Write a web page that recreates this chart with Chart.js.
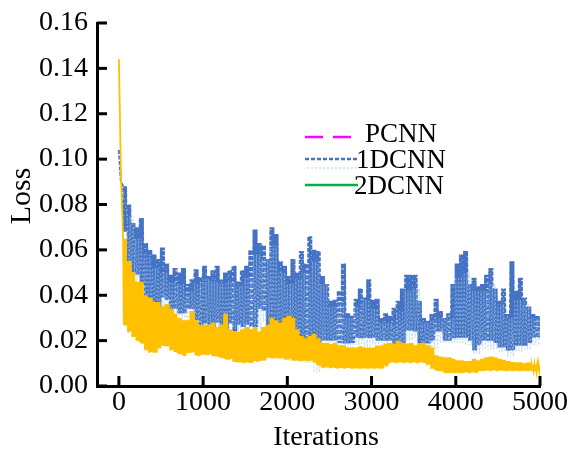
<!DOCTYPE html>
<html lang="en">
<head>
<meta charset="UTF-8">
<title>Loss vs Iterations</title>
<style>
  body { margin: 0; background: #fff; }
  #wrap { width: 569px; height: 450px; }
</style>
</head>
<body>
<div id="wrap"><canvas id="ctx" width="569" height="450"></canvas></div>
<script src="https://cdn.jsdelivr.net/npm/chart.js"></script>
<script>
// envelopes: upper / lower value per iteration bin
const fineStep = 50;     // yellow and dark blue: one bin every 50 iterations
const coarseStep = 100;  // light blue: one bin every 100 iterations

const xTicks = [0, 1000, 2000, 3000, 4000, 5000];
const yTicks = [0, 0.02, 0.04, 0.06, 0.08, 0.10, 0.12, 0.14, 0.16];

const yellowHi = [
  0.144, 0.065, 0.055, 0.050, 0.046, 0.046, 0.040, 0.039, 0.037, 0.037,
  0.035, 0.036, 0.034, 0.032, 0.030, 0.029, 0.029, 0.033, 0.029, 0.027,
  0.027, 0.027, 0.028, 0.026, 0.027, 0.032, 0.025, 0.024, 0.024, 0.025,
  0.026, 0.025, 0.026, 0.024, 0.026, 0.027, 0.030, 0.029, 0.028, 0.030,
  0.031, 0.030, 0.025, 0.022, 0.021, 0.022, 0.023, 0.021, 0.019, 0.019,
  0.0185, 0.019, 0.018, 0.018, 0.017, 0.017, 0.017, 0.0175, 0.017, 0.017,
  0.017, 0.0178, 0.0178, 0.0187, 0.019, 0.0187, 0.020, 0.019, 0.0187, 0.019,
  0.018, 0.0187, 0.019, 0.018, 0.017, 0.0135, 0.013, 0.0126, 0.0126, 0.012,
  0.0113, 0.0113, 0.011, 0.011, 0.012, 0.0113, 0.012, 0.0126, 0.013, 0.0126,
  0.012, 0.0115, 0.011, 0.0105, 0.0104, 0.0104, 0.010, 0.0104, 0.0095, 0.0095,
  0.009
];
const yellowLo = [
  0.092, 0.027, 0.024, 0.022, 0.020, 0.019, 0.016, 0.015, 0.015, 0.0165,
  0.018, 0.0175, 0.016, 0.015, 0.014, 0.0135, 0.0145, 0.015, 0.0135, 0.014,
  0.014, 0.014, 0.0135, 0.013, 0.0126, 0.012, 0.012, 0.011, 0.0104, 0.0104,
  0.0104, 0.0104, 0.011, 0.011, 0.0115, 0.0125, 0.0125, 0.0125, 0.0125, 0.012,
  0.012, 0.0115, 0.0113, 0.0113, 0.0113, 0.0113, 0.0105, 0.009, 0.0082, 0.0082,
  0.0082, 0.008, 0.008, 0.008, 0.008, 0.008, 0.008, 0.008, 0.008, 0.008,
  0.008, 0.008, 0.008, 0.009, 0.0104, 0.0104, 0.0104, 0.0104, 0.0104, 0.0104,
  0.0104, 0.0104, 0.0104, 0.0095, 0.008, 0.0069, 0.0069, 0.006, 0.006, 0.006,
  0.006, 0.006, 0.006, 0.006, 0.006, 0.0065, 0.0069, 0.0069, 0.0069, 0.0069,
  0.0069, 0.0069, 0.0069, 0.0069, 0.0069, 0.0069, 0.0069, 0.0069, 0.0069, 0.0065,
  0.007
];
const blueHi = [
  0.104, 0.088, 0.080, 0.072, 0.070, 0.074, 0.063, 0.060, 0.058, 0.056,
  0.061, 0.054, 0.049, 0.052, 0.050, 0.052, 0.045, 0.047, 0.0515, 0.048,
  0.053, 0.0485, 0.051, 0.053, 0.047, 0.050, 0.051, 0.053, 0.046, 0.051,
  0.053, 0.060, 0.069, 0.063, 0.062, 0.056, 0.070, 0.067, 0.055, 0.053,
  0.0485, 0.056, 0.050, 0.0595, 0.054, 0.066, 0.060, 0.0595, 0.0485, 0.045,
  0.0376, 0.038, 0.042, 0.054, 0.032, 0.031, 0.0384, 0.043, 0.039, 0.047,
  0.038, 0.0384, 0.030, 0.032, 0.031, 0.0345, 0.0376, 0.043, 0.049, 0.049,
  0.049, 0.0376, 0.030, 0.0288, 0.0317, 0.0384, 0.033, 0.030, 0.032, 0.045,
  0.054, 0.058, 0.0595, 0.045, 0.0477, 0.044, 0.045, 0.049, 0.052, 0.043,
  0.0376, 0.043, 0.0317, 0.055, 0.042, 0.0477, 0.039, 0.035, 0.0317, 0.031,
  0.0297
];
const blueLo = [
  0.090, 0.068, 0.055, 0.050, 0.049, 0.045, 0.039, 0.036, 0.035, 0.0345,
  0.039, 0.038, 0.034, 0.034, 0.032, 0.032, 0.034, 0.034, 0.029, 0.026,
  0.0275, 0.027, 0.026, 0.028, 0.027, 0.025, 0.0275, 0.024, 0.027, 0.026,
  0.027, 0.026, 0.026, 0.034, 0.033, 0.026, 0.0213, 0.021, 0.017, 0.017,
  0.018, 0.020, 0.020, 0.014, 0.0127, 0.013, 0.0127, 0.015, 0.020, 0.020,
  0.020, 0.020, 0.019, 0.0187, 0.0187, 0.019, 0.0213, 0.021, 0.0213, 0.021,
  0.0213, 0.020, 0.020, 0.020, 0.020, 0.0156, 0.0156, 0.018, 0.0244, 0.0244,
  0.024, 0.0187, 0.0187, 0.0187, 0.020, 0.024, 0.024, 0.020, 0.020, 0.021,
  0.0213, 0.0213, 0.0213, 0.020, 0.0156, 0.018, 0.020, 0.020, 0.020, 0.019,
  0.017, 0.017, 0.0156, 0.0156, 0.0178, 0.0178, 0.0178, 0.019, 0.0213, 0.0213,
  0.022
];
const lightHi = [
  0.095, 0.075, 0.065, 0.058, 0.052, 0.050, 0.046, 0.045, 0.042, 0.045,
  0.047, 0.046, 0.045, 0.046, 0.044, 0.048, 0.058, 0.056, 0.062, 0.050,
  0.045, 0.047, 0.050, 0.055, 0.045, 0.035, 0.036, 0.030, 0.035, 0.038,
  0.034, 0.028, 0.028, 0.033, 0.042, 0.043, 0.028, 0.029, 0.030, 0.030,
  0.048, 0.050, 0.042, 0.042, 0.045, 0.036, 0.030, 0.038, 0.036, 0.030,
  0.028
];
const lightLo = [
  0.085, 0.050, 0.042, 0.036, 0.032, 0.030, 0.030, 0.028, 0.028, 0.025,
  0.024, 0.024, 0.023, 0.025, 0.024, 0.024, 0.024, 0.028, 0.018, 0.014,
  0.015, 0.012, 0.010, 0.006, 0.015, 0.017, 0.016, 0.016, 0.018, 0.017,
  0.018, 0.017, 0.016, 0.014, 0.020, 0.021, 0.016, 0.016, 0.019, 0.019,
  0.019, 0.018, 0.014, 0.016, 0.016, 0.015, 0.013, 0.015, 0.016, 0.018,
  0.020
];

// turn an upper/lower envelope into a zigzag trace, `reps` swings per bin
function zigzag(hi, lo, step, reps) {
  const pts = [];
  const last = hi.length - 1;
  for (let i = 0; i <= last; i++) {
    const x = i * step;
    const n = (i === 0 || i === last) ? 1 : reps;
    for (let k = 0; k < n; k++) {
      const dx = step * k / n;
      pts.push({ x: x + dx, y: hi[i] });
      pts.push({ x: i < last ? x + dx + step / (2 * n) : x, y: lo[i] });
    }
  }
  return pts;
}

const serif = "'Liberation Serif', 'Times New Roman', serif";

// inward ticks, axis titles and the legend box
const decor = {
  id: 'decor',
  afterDraw(chart) {
    const c = chart.ctx;
    const xs = chart.scales.x;
    const ys = chart.scales.y;
    const area = chart.chartArea;
    c.save();
    c.strokeStyle = '#000';
    c.lineWidth = 3;
    yTicks.forEach(v => {
      const py = ys.getPixelForValue(v);
      c.beginPath(); c.moveTo(area.left, py); c.lineTo(area.left + 10, py); c.stroke();
    });
    xTicks.forEach(v => {
      const px = xs.getPixelForValue(v);
      c.beginPath(); c.moveTo(px, area.bottom); c.lineTo(px, area.bottom - 10); c.stroke();
    });

    c.fillStyle = '#000';
    c.font = '28px ' + serif;
    c.textAlign = 'center';
    c.textBaseline = 'alphabetic';
    c.fillText('Iterations', 326, 445);

    c.save();
    c.translate(30, 196);
    c.rotate(-Math.PI / 2);
    c.font = '30px ' + serif;
    c.fillText('Loss', 0, 0);
    c.restore();

    // legend
    c.font = '27px ' + serif;
    c.textAlign = 'left';
    c.textBaseline = 'middle';
    c.lineWidth = 2.5;
    c.strokeStyle = '#FF00FF';
    c.setLineDash([18, 10]);
    c.beginPath(); c.moveTo(305, 137); c.lineTo(351, 137); c.stroke();
    c.fillText('PCNN', 365, 135);

    c.strokeStyle = '#4472C4';
    c.setLineDash([4, 2]);
    c.beginPath(); c.moveTo(305, 159); c.lineTo(357, 159); c.stroke();
    c.lineWidth = 1;
    c.strokeStyle = 'rgba(157,195,230,0.8)';
    c.setLineDash([2, 2]);
    c.beginPath(); c.moveTo(307, 168); c.lineTo(357, 168); c.stroke();
    c.fillText('1DCNN', 356, 161);

    c.setLineDash([]);
    c.lineWidth = 2.5;
    c.strokeStyle = '#00B050';
    c.beginPath(); c.moveTo(305, 185); c.lineTo(358, 185); c.stroke();
    c.fillText('2DCNN', 354, 187);
    c.restore();
  }
};

const ctx = document.getElementById('ctx').getContext('2d');

new Chart(ctx, {
  type: 'line',
  data: {
    datasets: [
      {
        label: 'yellow',
        data: zigzag(yellowHi, yellowLo, fineStep, 3),
        borderColor: '#FFC000',
        borderWidth: 1.8,
        order: 0
      },
      {
        label: 'light',
        data: zigzag(lightHi, lightLo, coarseStep, 3),
        borderColor: 'rgba(157,195,230,0.6)',
        borderWidth: 1.2,
        borderDash: [2, 2],
        order: 1
      },
      {
        label: 'blue',
        data: zigzag(blueHi, blueLo, fineStep, 3),
        borderColor: '#4472C4',
        borderWidth: 2.2,
        borderDash: [4, 1.5],
        order: 2
      }
    ]
  },
  options: {
    responsive: false,
    animation: false,
    events: [],
    elements: { point: { radius: 0 }, line: { tension: 0 } },
    layout: { padding: { left: 0, top: 20, right: 29, bottom: 0 } },
    plugins: { legend: { display: false }, tooltip: { enabled: false } },
    scales: {
      x: {
        type: 'linear',
        min: -260,
        max: 5000,
        afterBuildTicks: s => { s.ticks = xTicks.map(v => ({ value: v })); },
        afterFit: s => { s.height = 64; },
        grid: { display: false, drawTicks: false },
        border: { display: true, color: '#000', width: 3 },
        ticks: {
          color: '#000',
          font: { family: serif, size: 28 },
          padding: 0,
          maxRotation: 0,
          callback: v => String(v)
        }
      },
      y: {
        min: 0,
        max: 0.16,
        afterBuildTicks: s => { s.ticks = yTicks.map(v => ({ value: v })); },
        afterFit: s => { s.width = 97; },
        grid: { display: false, drawTicks: false },
        border: { display: true, color: '#000', width: 3 },
        ticks: {
          color: '#000',
          font: { family: serif, size: 28, lineHeight: 1 },
          padding: 9,
          callback: v => v.toFixed(2)
        }
      }
    }
  },
  plugins: [decor]
});
</script>
</body>
</html>
